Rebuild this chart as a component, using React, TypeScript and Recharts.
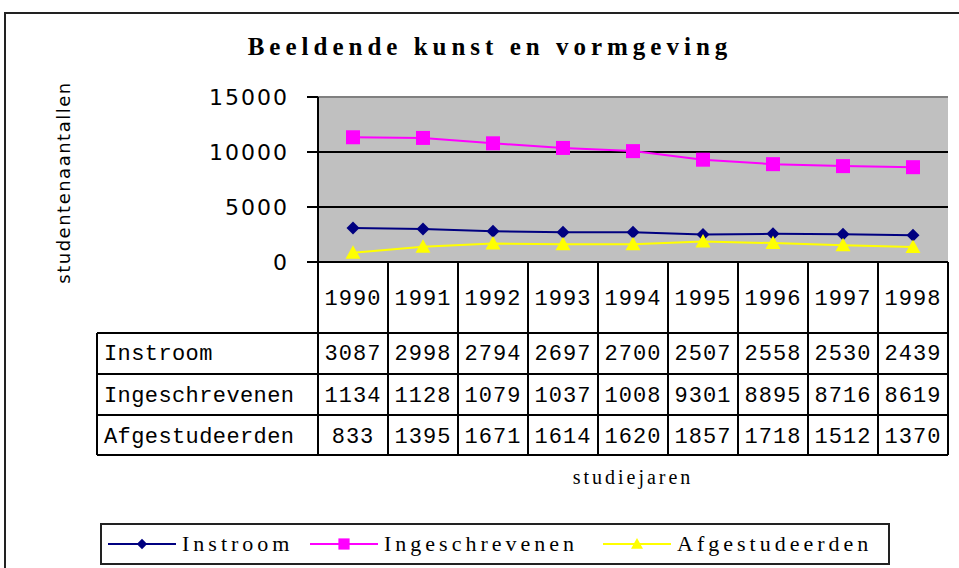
import React from 'react'
import {
  LineChart, Line, XAxis, YAxis, CartesianGrid, ReferenceLine, Legend
} from 'recharts'

const years = ['1990', '1991', '1992', '1993', '1994', '1995', '1996', '1997', '1998']
const instroom = [3087, 2998, 2794, 2697, 2700, 2507, 2558, 2530, 2439]
const ingeschrevenen = [11340, 11280, 10790, 10370, 10080, 9301, 8895, 8716, 8619]
const afgestudeerden = [833, 1395, 1671, 1614, 1620, 1857, 1718, 1512, 1370]
const yTicks = [0, 5000, 10000, 15000]

const series = [
  { name: 'Instroom', values: instroom, color: '#000080', shape: 'diamond' },
  { name: 'Ingeschrevenen', values: ingeschrevenen, color: '#ff00ff', shape: 'square' },
  { name: 'Afgestudeerden', values: afgestudeerden, color: '#ffff00', shape: 'triangle' },
]

const data = years.map((year, i) => ({
  year,
  Instroom: instroom[i],
  Ingeschrevenen: ingeschrevenen[i],
  Afgestudeerden: afgestudeerden[i],
}))

// layout
const W = 959
const H = 568
const xAxisHeight = 30
const margin = { top: 97, right: 11, bottom: 306 - xAxisHeight, left: 0 }
const plotBottom = 262
const halfCol = 35
const rowLines = [333, 374, 415, 455]
const rowBaselines = [360, 402, 443]
const labelLeft = 97
const tableFont = '"Liberation Mono", monospace'

function Marker({ cx, cy, shape, color, size = 1 }: any) {
  if (cx == null || cy == null) return null
  if (shape === 'diamond') {
    const r = 6.5 * size
    return <polygon points={`${cx},${cy - r} ${cx + r},${cy} ${cx},${cy + r} ${cx - r},${cy}`} fill={color} />
  }
  if (shape === 'square') {
    const r = 7 * size
    return <rect x={cx - r} y={cy - r} width={r * 2} height={r * 2} fill={color} />
  }
  const r = 7.5 * size
  return <polygon points={`${cx},${cy - r} ${cx + r},${cy + r * 0.8} ${cx - r},${cy + r * 0.8}`} fill={color} />
}

// the data table under the plot, drawn per category column
function TableTick(props: any) {
  const { x, payload } = props
  const i = payload.index ?? props.index
  const left = x - halfCol
  const right = x + halfCol
  return (
    <g>
      <line x1={right} y1={plotBottom} x2={right} y2={455} stroke="#000" strokeWidth={2} />
      {i === 0 && <line x1={left} y1={plotBottom} x2={left} y2={455} stroke="#000" strokeWidth={2} />}
      {rowLines.map((y) => (
        <line key={y} x1={left} y1={y} x2={right} y2={y} stroke="#000" strokeWidth={2} />
      ))}
      <text x={x} y={305} textAnchor="middle" fontFamily={tableFont} fontSize={22} letterSpacing={1} fill="#000">
        {payload.value}
      </text>
      {series.map((s, r) => (
        <text key={s.name} x={x} y={rowBaselines[r]} textAnchor="middle" fontFamily={tableFont}
          fontSize={22} letterSpacing={1} fill="#000">
          {String(s.values[i]).slice(0, 4)}
        </text>
      ))}
      {i === 0 && (
        <g>
          <line x1={labelLeft} y1={rowLines[0]} x2={labelLeft} y2={455} stroke="#000" strokeWidth={2} />
          {rowLines.map((y) => (
            <line key={y} x1={labelLeft} y1={y} x2={left} y2={y} stroke="#000" strokeWidth={2} />
          ))}
          {series.map((s, r) => (
            <text key={s.name} x={104} y={rowBaselines[r]} fontFamily={tableFont} fontSize={22}
              letterSpacing={0.4} fill="#000">
              {s.name}
            </text>
          ))}
        </g>
      )}
    </g>
  )
}

function LegendBox() {
  const widths = [202, 293, 280]
  return (
    <div style={{
      border: '2px solid #222', height: 42, boxSizing: 'border-box', display: 'flex',
      alignItems: 'center', paddingLeft: 6, fontFamily: '"Liberation Serif", serif',
      fontSize: 22, letterSpacing: 4, color: '#000', background: '#fff',
    }}>
      {series.map((s, i) => (
        <div key={s.name} style={{ width: widths[i], display: 'flex', alignItems: 'center' }}>
          <svg width={68} height={20} style={{ flex: 'none' }}>
            <line x1={0} y1={10} x2={68} y2={10} stroke={s.color} strokeWidth={2} />
            <Marker cx={34} cy={10} shape={s.shape} color={s.color} size={0.8} />
          </svg>
          <span style={{ marginLeft: 6 }}>{s.name}</span>
        </div>
      ))}
    </div>
  )
}

export default function App() {
  return (
    <div style={{ position: 'absolute', left: 0, top: 0, width: W, height: H, overflow: 'hidden', background: '#fff' }}>
      <div style={{
        position: 'absolute', left: 4, top: 12, width: 1000, height: 600,
        border: '2px solid #222',
      }} />
      <div style={{
        position: 'absolute', left: 0, top: 33, width: 980, textAlign: 'center',
        fontFamily: '"Liberation Serif", serif', fontWeight: 'bold', fontSize: 25,
        letterSpacing: 5, color: '#000',
      }}>
        Beeldende kunst en vormgeving
      </div>
      <div style={{ position: 'absolute', left: 0, top: 0 }}>
        <LineChart width={W} height={H} data={data} margin={margin}>
          <CartesianGrid horizontal={false} vertical={false} fill="#c0c0c0" fillOpacity={1} />
          <ReferenceLine y={5000} stroke="#000" strokeWidth={2} />
          <ReferenceLine y={10000} stroke="#000" strokeWidth={2} />
          <ReferenceLine y={15000} stroke="#808080" strokeWidth={2} />
          <XAxis
            dataKey="year"
            height={xAxisHeight}
            interval={0}
            padding={{ left: halfCol, right: halfCol }}
            axisLine={{ stroke: '#000', strokeWidth: 2 }}
            tickLine={false}
            tick={(p: any) => <TableTick {...p} />}
            label={({ viewBox }: any) => (
              <text x={viewBox.x + viewBox.width / 2} y={plotBottom + 222} textAnchor="middle"
                fontFamily='"Liberation Serif", serif' fontSize={20} letterSpacing={3} fill="#000">
                studiejaren
              </text>
            )}
          />
          <YAxis
            width={318}
            domain={[0, 15000]}
            ticks={yTicks}
            interval={0}
            axisLine={{ stroke: '#000', strokeWidth: 2 }}
            tickLine={{ stroke: '#000', strokeWidth: 2 }}
            tickSize={11}
            tickMargin={18}
            tick={{ fontFamily: '"DejaVu Sans", sans-serif', fontSize: 22, letterSpacing: 2, fill: '#000' }}
            label={({ viewBox }: any) => (
              <text x={70} y={viewBox.y + viewBox.height / 2 + 3} textAnchor="middle"
                transform={`rotate(-90, 70, ${viewBox.y + viewBox.height / 2 + 3})`}
                fontFamily='"DejaVu Sans", sans-serif' fontSize={18} letterSpacing={1.5} fill="#000">
                studentenaantallen
              </text>
            )}
          />
          {series.map((s) => (
            <Line
              key={s.name}
              dataKey={s.name}
              type="linear"
              stroke={s.color}
              strokeWidth={2}
              isAnimationActive={false}
              dot={(p: any) => <Marker key={`${s.name}-${p.index}`} cx={p.cx} cy={p.cy} shape={s.shape} color={s.color} />}
              activeDot={false}
            />
          ))}
          <Legend
            layout="horizontal"
            verticalAlign="middle"
            align="center"
            wrapperStyle={{ left: 100, top: 523, width: 790, height: 42, bottom: 'auto' }}
            content={() => <LegendBox />}
          />
        </LineChart>
      </div>
    </div>
  )
}
